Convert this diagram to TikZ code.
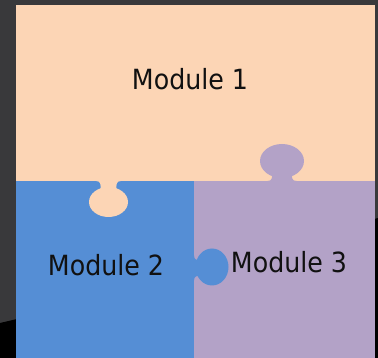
\documentclass[tikz,border=0pt]{standalone}
\usepackage{fontspec}
\setmainfont[FakeStretch=0.91]{DejaVu Sans}
\definecolor{bgc}{RGB}{57,57,59}
\definecolor{peach}{RGB}{252,213,181}
\definecolor{blueb}{RGB}{85,142,213}
\definecolor{purp}{RGB}{179,162,199}
\definecolor{txt}{RGB}{17,17,17}
\tikzset{
  lbl/.style={anchor=base, text=txt, font=\fontsize{27.8pt}{32pt}\selectfont, inner sep=0pt},
}
\begin{document}
\begin{tikzpicture}[x=1pt,y=-1pt]
\useasboundingbox (0,0) rectangle (378,358);
% background
\fill[bgc] (0,0) rectangle (378,358);
\fill[black] (0,323) .. controls (100,300) and (300,240) .. (378,218) -- (378,358) -- (0,358) -- cycle;
% pieces
\fill[peach] (16,5) rectangle (375,181);
\fill[blueb] (16,181) rectangle (194,358);
\fill[purp] (194,181) rectangle (375,358);
% peach knob down into module 2
\fill[peach] (96,181) .. controls (100.5,181) and (101,184) .. (100.5,190) -- (116.5,190) .. controls (116,184) and (116.5,181) .. (121,181) -- cycle;
\fill[peach] (108.5,202) ellipse [x radius=19.5pt, y radius=15pt];
% purple knob up into module 1
\fill[purp] (267.5,181) .. controls (272,181) and (272.5,178) .. (272,172) -- (292,172) .. controls (291.5,178) and (292,181) .. (296.5,181) -- cycle;
\fill[purp] (282,161) ellipse [x radius=22pt, y radius=17pt];
% blue knob right into module 3
\fill[blueb] (194,255.5) .. controls (194,260) and (197,260.5) .. (202,260) -- (202,276) .. controls (197,275.5) and (194,276) .. (194,280.5) -- cycle;
\fill[blueb] (212,267) ellipse [x radius=16.5pt, y radius=18.5pt];
% labels
\node[lbl] (m1) at (190,90) {Module 1};
\node[lbl] (m2) at (106,276) {Module 2};
\node[lbl] (m3) at (289,273) {Module 3};
\end{tikzpicture}
\end{document}
